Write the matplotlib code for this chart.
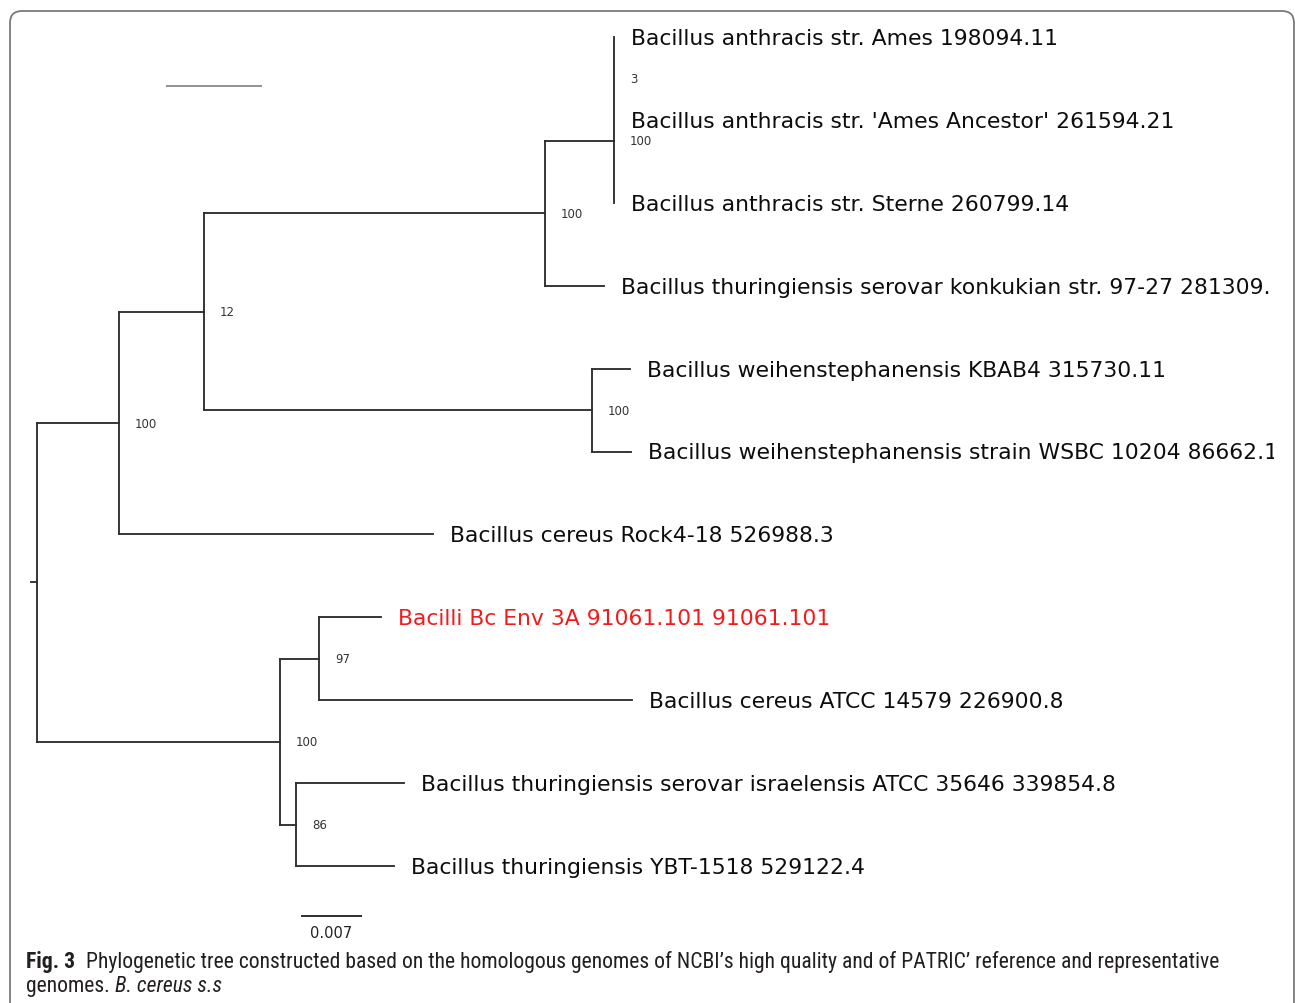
import matplotlib
matplotlib.use("Agg")
import matplotlib.pyplot as plt
import matplotlib.transforms as mtransforms
from matplotlib import font_manager
from matplotlib.patches import FancyBboxPatch
from matplotlib.collections import LineCollection

# ---------------- data ----------------
leaf_names = [
    "Bacillus anthracis str. Ames 198094.11",
    "Bacillus anthracis str. 'Ames Ancestor' 261594.21",
    "Bacillus anthracis str. Sterne 260799.14",
    "Bacillus thuringiensis serovar konkukian str. 97-27 281309.",
    "Bacillus weihenstephanensis KBAB4 315730.11",
    "Bacillus weihenstephanensis strain WSBC 10204 86662.1",
    "Bacillus cereus Rock4-18 526988.3",
    "Bacilli Bc Env 3A 91061.101 91061.101",
    "Bacillus cereus ATCC 14579 226900.8",
    "Bacillus thuringiensis serovar israelensis ATCC 35646 339854.8",
    "Bacillus thuringiensis YBT-1518 529122.4",
]
leaf_parent = ["D1", "D1", "D", "C", "E", "E", "A", "G", "G", "H", "H"]
leaf_length = [0.0, 0.0, 0.0, 0.00677, 0.00436, 0.00448, 0.03603,
               0.00711, 0.03592, 0.01239, 0.01125]
highlight_leaf = "Bacilli Bc Env 3A 91061.101 91061.101"

node_ids = ["root", "A", "B", "C", "D", "D1", "E", "F", "G", "H"]
node_parent = [None, "root", "A", "B", "C", "D", "B", "root", "F", "F"]
node_length = [0.00069, 0.00941, 0.00975, 0.03913, 0.00792, 0.0,
               0.04453, 0.02789, 0.00448, 0.00184]
node_support = [None, "100", "12", "100", "100", "3", "100", "100", "97", "86"]

scale_length = 0.007
scale_label = "0.007"

caption_bold = "Fig. 3"
caption_line1 = ("Phylogenetic tree constructed based on the homologous genomes of "
                 "NCBI\u2019s high quality and of PATRIC\u2019 reference and representative")
caption_line2a = "genomes. "
caption_line2b = "B. cereus s.s"

# ---------------- layout ----------------
W, H = 1295, 1004
PX_PER_UNIT = 61 / 0.007
X0 = 37          # px of root vertical
Y0 = 38          # px of first leaf
DY = 82.9        # px between leaves
CLIP_X = 1274
LINE_COLOR = "#2e2e2e"
LW = 1.35

# pick a condensed face for the caption if one is installed
cap_family = "DejaVu Sans"
cap_stretch = "normal"
preferred = ["Roboto Condensed", "Liberation Sans Narrow", "Open Sans Condensed",
             "Noto Sans Display", "Noto Sans"]
cands = {}
for f in font_manager.fontManager.ttflist:
    st = f.stretch if isinstance(f.stretch, str) else str(f.stretch)
    if ("Condensed" in f.name or "Narrow" in f.name or
            st in ("condensed", "semi-condensed", "extra-condensed", "ultra-condensed")):
        cands.setdefault(f.name, set()).add(st)
for p in preferred:
    if p in cands:
        cap_family = p
        s = cands[p]
        cap_stretch = "condensed" if "condensed" in s else (sorted(s)[0] if s else "normal")
        break
else:
    if cands:
        cap_family = sorted(cands)[0]
        cap_stretch = "condensed" if "condensed" in cands[cap_family] else "normal"

fig = plt.figure(figsize=(W / 100, H / 100), dpi=100)
renderer = fig.canvas.get_renderer()

# overlay axes in pixel coords (frame, caption)
ax2 = fig.add_axes([0, 0, 1, 1])
ax2.set_xlim(0, W)
ax2.set_ylim(H, 0)
ax2.axis("off")

frame = FancyBboxPatch((10, 12), 1284, 1060,
                       boxstyle="round,pad=0,rounding_size=12",
                       facecolor="white", edgecolor="#7a7a7a", lw=1.3)
ax2.add_patch(frame)
ax2.plot([166, 262], [87, 87], color="#808080", lw=1.2, solid_capstyle="butt")

# tree axes
ax = fig.add_axes([0, 0, CLIP_X / W, 1])
ax.set_xlim(-X0 / PX_PER_UNIT, (CLIP_X - X0) / PX_PER_UNIT)
ax.set_ylim((H - Y0) / DY, -Y0 / DY)
ax.axis("off")
ax.patch.set_visible(False)

# build tree coordinates
parent = dict(zip(node_ids, node_parent))
length = dict(zip(node_ids, node_length))
parent.update(dict(zip(leaf_names, leaf_parent)))
length.update(dict(zip(leaf_names, leaf_length)))

xpos = {}
def get_x(n):
    if n in xpos:
        return xpos[n]
    p = parent[n]
    xpos[n] = 0.0 if p is None else get_x(p) + length[n]
    return xpos[n]

children = {n: [] for n in node_ids}
for n in node_ids + leaf_names:
    if parent[n] is not None:
        children[parent[n]].append(n)

ypos = {name: i for i, name in enumerate(leaf_names)}
def get_y(n):
    if n in ypos:
        return ypos[n]
    ys = [get_y(c) for c in children[n]]
    ypos[n] = (min(ys) + max(ys)) / 2
    return ypos[n]

for n in node_ids + leaf_names:
    get_x(n)
    get_y(n)

segs = []
for n in node_ids + leaf_names:
    p = parent[n]
    if p is None:
        segs.append([(xpos[n] - length[n], ypos[n]), (xpos[n], ypos[n])])
    elif length[n] > 0:
        segs.append([(xpos[p], ypos[n]), (xpos[n], ypos[n])])
# vertical connectors (merge those sharing the same x)
vert = {}
for n in node_ids:
    ys = [ypos[c] for c in children[n]]
    key = round(xpos[n], 9)
    lo, hi = vert.get(key, (min(ys), max(ys)))
    vert[key] = (min(lo, min(ys)), max(hi, max(ys)))
for xk, (lo, hi) in vert.items():
    segs.append([(xk, lo), (xk, hi)])

lc = LineCollection(segs, colors=LINE_COLOR, linewidths=LW, capstyle="projecting")
ax.add_collection(lc)

# fit leaf label font size to reference width
tmp = ax.text(0, 0, leaf_names[0], fontsize=10, family="DejaVu Sans")
w10 = tmp.get_window_extent(renderer=renderer).width
tmp.remove()
leaf_fs = 10 * 427 / w10

lab_off = mtransforms.offset_copy(ax.transData, fig=fig, x=17, y=-1, units="dots")
for name in leaf_names:
    color = "#f01c1c" if name == highlight_leaf else "#0d0d0d"
    t = ax.text(xpos[name], ypos[name], name, transform=lab_off,
                fontsize=leaf_fs, family="DejaVu Sans", color=color,
                ha="left", va="center")
    t.set_clip_box(ax.bbox)
    t.set_clip_on(True)

sup_off = mtransforms.offset_copy(ax.transData, fig=fig, x=16, y=0, units="dots")
for n, s in zip(node_ids, node_support):
    if s is None:
        continue
    ax.text(xpos[n], ypos[n], s, transform=sup_off, fontsize=8.5,
            family="DejaVu Sans", color="#333333", ha="left", va="center")

# scale bar
sb_x0 = (301 - X0) / PX_PER_UNIT
sb_y = (917 - Y0) / DY
ax.plot([sb_x0, sb_x0 + scale_length], [sb_y, sb_y], color=LINE_COLOR, lw=1.4,
        solid_capstyle="butt")
ax.text(sb_x0 + scale_length / 2, (934 - Y0) / DY, scale_label, fontsize=10.5,
        family="DejaVu Sans", color="#222222", ha="center", va="center")

# caption
cap_color = "#231f20"
kw = dict(family=[cap_family, "DejaVu Sans"], stretch=cap_stretch)
t1 = ax2.text(0, 0, caption_bold, fontsize=10, weight="bold", **kw)
t2 = ax2.text(0, 0, caption_line1, fontsize=10, **kw)
wb = t1.get_window_extent(renderer=renderer).width
wl = t2.get_window_extent(renderer=renderer).width
t1.remove(); t2.remove()
gap = 11
cap_fs = min(10 * (1218 - 26 - gap) / (wb + wl), 17)

tb = ax2.text(26, 962, caption_bold, fontsize=cap_fs, weight="bold",
              color=cap_color, ha="left", va="center", **kw)
wb = tb.get_window_extent(renderer=renderer).width
ax2.text(26 + wb + gap, 962, caption_line1, fontsize=cap_fs,
         color=cap_color, ha="left", va="center", **kw)
ta = ax2.text(26, 987, caption_line2a, fontsize=cap_fs,
              color=cap_color, ha="left", va="center", **kw)
wa = ta.get_window_extent(renderer=renderer).width
ax2.text(26 + wa, 987, caption_line2b, fontsize=cap_fs,
         style="italic", color=cap_color, ha="left", va="center", **kw)

fig.savefig("out.png", dpi=100)
